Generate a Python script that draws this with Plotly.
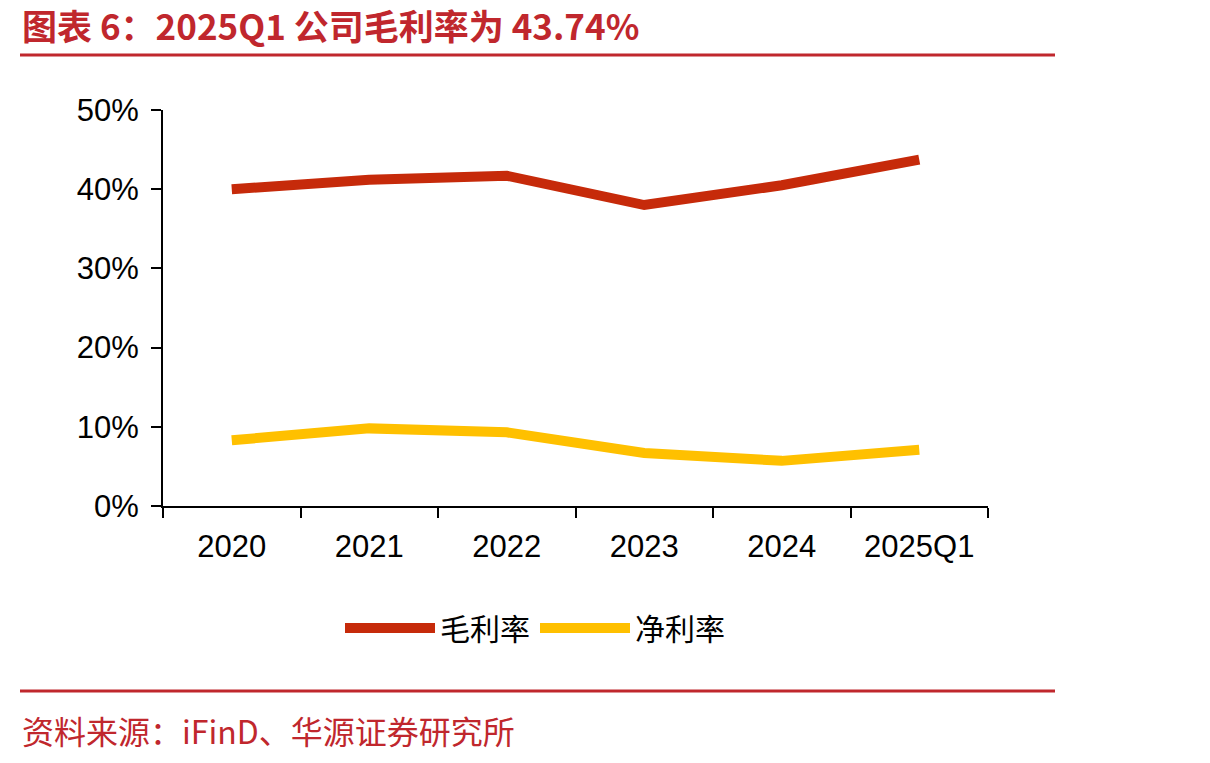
import plotly.graph_objects as go

categories = ["2020", "2021", "2022", "2023", "2024", "2025Q1"]
gross_margin = [40.0, 41.2, 41.7, 38.0, 40.5, 43.74]
net_margin = [8.3, 9.8, 9.3, 6.7, 5.7, 7.1]
y_ticks = [0, 10, 20, 30, 40, 50]
y_tick_labels = ["0%", "10%", "20%", "30%", "40%", "50%"]

RED = "#C62A0A"
YELLOW = "#FFC000"
TITLE_RED = "#C0272D"
FONT = "Liberation Sans, Arial, Noto Sans CJK SC"

fig = go.Figure()
fig.add_trace(go.Scatter(x=categories, y=gross_margin, name="毛利率", mode="lines",
                         line=dict(color=RED, width=10)))
fig.add_trace(go.Scatter(x=categories, y=net_margin, name="净利率", mode="lines",
                         line=dict(color=YELLOW, width=10)))

L, T, PW, PH = 163, 110, 825, 396
W, H = 1210, 763

def px(x):
    return (x - L) / PW

def py(y):
    return (T + PH - y) / PH

fig.update_layout(
    width=W, height=H,
    margin=dict(l=L, r=W - L - PW, t=T, b=H - T - PH, pad=0),
    paper_bgcolor="white", plot_bgcolor="white",
    font=dict(family=FONT, color="black", size=31),
    showlegend=True,
    legend=dict(orientation="h", x=px(535), y=py(628), xanchor="center", yanchor="middle",
                font=dict(size=30, family="Noto Sans CJK SC"), itemwidth=90,
                bgcolor="rgba(0,0,0,0)", traceorder="normal"),
    xaxis=dict(type="category", range=[-0.5, 5.5], showline=True, linecolor="black", linewidth=2,
               ticks="outside", ticklen=10, tickwidth=2, tickcolor="black", tickson="boundaries",
               showgrid=False, zeroline=False, tickfont=dict(size=31, family=FONT),
               ticklabelstandoff=12),
    yaxis=dict(range=[0, 50], tickvals=y_ticks, ticktext=y_tick_labels, showline=True,
               linecolor="black", linewidth=2, ticks="outside", ticklen=10, tickwidth=2,
               tickcolor="black", showgrid=False, zeroline=False,
               tickfont=dict(size=31, family=FONT), ticklabelstandoff=6),
)

fig.add_annotation(text="<b>图表 6：2025Q1 公司毛利率为 43.74%</b>", xref="paper", yref="paper",
                   x=px(20), y=py(25), xanchor="left", yanchor="middle", showarrow=False,
                   font=dict(size=35, color=TITLE_RED, family="Noto Sans CJK SC"))
fig.add_annotation(text="资料来源：iFinD、华源证券研究所", xref="paper", yref="paper",
                   x=px(20), y=py(730), xanchor="left", yanchor="middle", showarrow=False,
                   font=dict(size=32, color=TITLE_RED, family="Noto Sans CJK SC"))
for yy in (55, 691):
    fig.add_shape(type="line", xref="paper", yref="paper", x0=px(20), x1=px(1055),
                  y0=py(yy), y1=py(yy), line=dict(color=TITLE_RED, width=3))

fig.write_html("out.html")
